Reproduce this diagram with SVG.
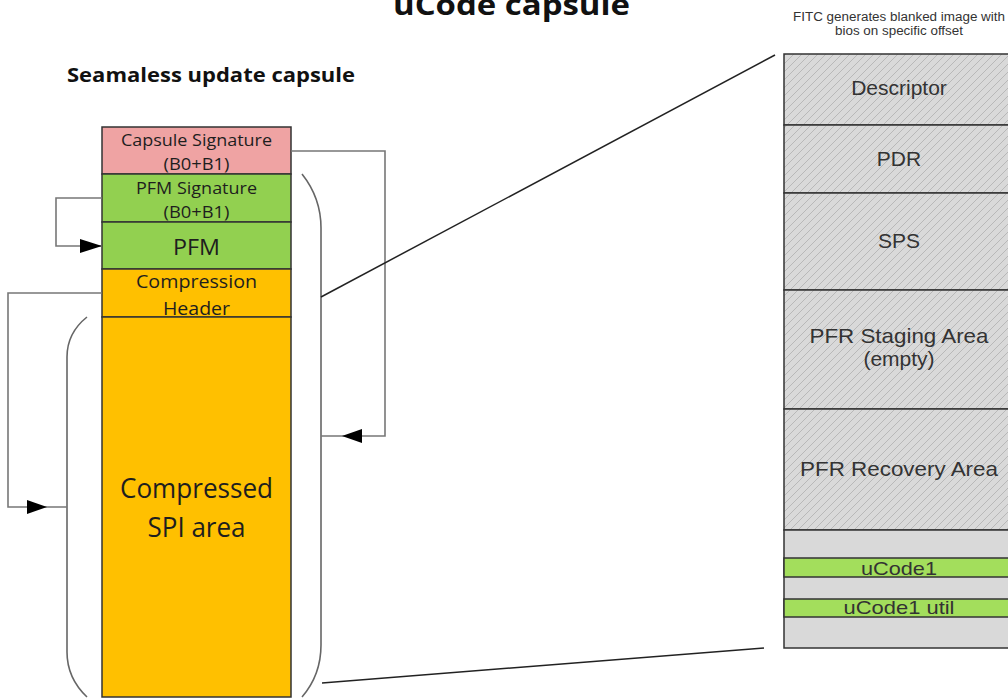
<svg xmlns="http://www.w3.org/2000/svg" width="1008" height="698" viewBox="0 0 1008 698">
<defs>
<pattern id="hatch" patternUnits="userSpaceOnUse" width="8" height="8">
<rect width="8" height="8" fill="#d9d9d9"/>
<path d="M-2,2 L2,-2 M0,8 L8,0 M6,10 L10,6" stroke="#b8b8b8" stroke-width="1"/>
</pattern>
</defs>
<style>
.blk{stroke:#333;stroke-width:1.5}
.lt{font-family:"Open Sans","Liberation Sans",sans-serif;fill:#1e1e1e;text-anchor:middle}
.rt{font-family:"Liberation Sans",Arial,sans-serif;fill:#333;text-anchor:middle}
.hd{font-family:"Open Sans","Liberation Sans",sans-serif;font-weight:bold;fill:#111}
.con{fill:none;stroke:#777;stroke-width:1.6}
.brk{fill:none;stroke:#666;stroke-width:1.6}
.diag{fill:none;stroke:#222;stroke-width:1.5}
</style>
<rect width="1008" height="698" fill="#fff"/>

<g id="titles">
<text class="hd" x="393" y="15" font-size="28" textLength="237" lengthAdjust="spacingAndGlyphs">uCode capsule</text>
<text class="hd" x="67" y="82" font-size="19" textLength="288" lengthAdjust="spacingAndGlyphs">Seamaless update capsule</text>
<text class="rt" x="899" y="21" font-size="12" fill="#222" textLength="212" lengthAdjust="spacingAndGlyphs">FITC generates blanked image with</text>
<text class="rt" x="899" y="35" font-size="12" fill="#222" textLength="128" lengthAdjust="spacingAndGlyphs">bios on specific offset</text>
</g>

<g id="capsule-signature">
<rect class="blk" x="102" y="127" width="189" height="47" fill="#efa3a3"/>
<text class="lt" x="196.5" y="146" font-size="16" textLength="151" lengthAdjust="spacingAndGlyphs">Capsule Signature</text>
<text class="lt" x="196.5" y="170" font-size="16" textLength="66" lengthAdjust="spacingAndGlyphs">(B0+B1)</text>
</g>
<g id="pfm-signature">
<rect class="blk" x="102" y="174" width="189" height="48" fill="#92d050"/>
<text class="lt" x="196.5" y="194" font-size="16" textLength="121" lengthAdjust="spacingAndGlyphs">PFM Signature</text>
<text class="lt" x="196.5" y="218" font-size="16" textLength="66" lengthAdjust="spacingAndGlyphs">(B0+B1)</text>
</g>
<g id="pfm">
<rect class="blk" x="102" y="222" width="189" height="47" fill="#92d050"/>
<text class="lt" x="196.5" y="255" font-size="21" textLength="47" lengthAdjust="spacingAndGlyphs">PFM</text>
</g>
<g id="compression-header">
<rect class="blk" x="102" y="269" width="189" height="48" fill="#ffc000"/>
<text class="lt" x="196.5" y="288" font-size="18" textLength="121" lengthAdjust="spacingAndGlyphs">Compression</text>
<text class="lt" x="196.5" y="315" font-size="18" textLength="67" lengthAdjust="spacingAndGlyphs">Header</text>
</g>
<g id="compressed-spi">
<rect class="blk" x="102" y="317" width="189" height="380" fill="#ffc000"/>
<text class="lt" x="196.5" y="498" font-size="27" textLength="153" lengthAdjust="spacingAndGlyphs">Compressed</text>
<text class="lt" x="196.5" y="537" font-size="27" textLength="98" lengthAdjust="spacingAndGlyphs">SPI area</text>
</g>

<g id="right-bracket">
<path class="brk" d="M302,174 Q321,198 321,228 L321,645 Q321,675 302,697"/>
</g>
<g id="left-bracket">
<path class="brk" d="M87,317 Q67,333 67,357 L67,652 Q67,678 87,697"/>
</g>

<g id="descriptor">
<rect class="blk" x="784" y="54" width="230" height="71" fill="url(#hatch)"/>
<text class="rt" x="899" y="95" font-size="21">Descriptor</text>
</g>
<g id="pdr">
<rect class="blk" x="784" y="125" width="230" height="68" fill="url(#hatch)"/>
<text class="rt" x="899" y="166" font-size="21">PDR</text>
</g>
<g id="sps">
<rect class="blk" x="784" y="193" width="230" height="97" fill="url(#hatch)"/>
<text class="rt" x="899" y="248" font-size="21">SPS</text>
</g>
<g id="pfr-staging">
<rect class="blk" x="784" y="290" width="230" height="119" fill="url(#hatch)"/>
<text class="rt" x="899" y="343" font-size="21" textLength="179" lengthAdjust="spacingAndGlyphs">PFR Staging Area</text>
<text class="rt" x="899" y="366" font-size="21">(empty)</text>
</g>
<g id="pfr-recovery">
<rect class="blk" x="784" y="409" width="230" height="121" fill="url(#hatch)"/>
<text class="rt" x="899" y="476" font-size="21" textLength="198" lengthAdjust="spacingAndGlyphs">PFR Recovery Area</text>
</g>
<g id="ucode-region">
<rect class="blk" x="784" y="530" width="230" height="118" fill="#d9d9d9"/>
</g>
<g id="ucode1">
<rect class="blk" x="784" y="558" width="230" height="19" fill="#a3de5c"/>
<text class="rt" x="899" y="575" font-size="19" textLength="76" lengthAdjust="spacingAndGlyphs">uCode1</text>
</g>
<g id="ucode1-util">
<rect class="blk" x="784" y="599" width="230" height="18" fill="#a3de5c"/>
<text class="rt" x="899" y="614" font-size="19" textLength="111" lengthAdjust="spacingAndGlyphs">uCode1 util</text>
</g>

<g id="connectors">
<polyline class="con" points="291,151 385,151 385,436 321,436"/>
<polygon points="342,436 362,429 362,443" fill="#000"/>
<polyline class="con" points="102,198 56,198 56,246 102,246"/>
<polygon points="102,246 80,239 80,253" fill="#000"/>
<polyline class="con" points="102,293 8,293 8,507 67,507"/>
<polygon points="47,507 27,500 27,514" fill="#000"/>
<line class="diag" x1="321" y1="297" x2="775" y2="55"/>
<line class="diag" x1="322" y1="683" x2="764" y2="648"/>
</g>
</svg>
